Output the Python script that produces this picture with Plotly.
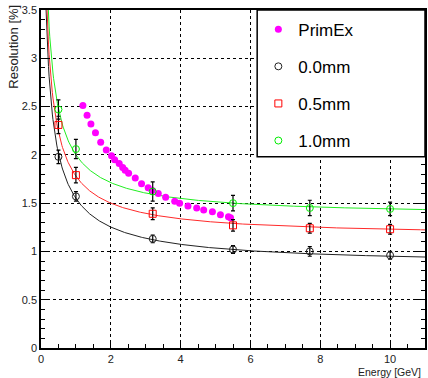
import numpy as np
import plotly.graph_objects as go

# ---------------- data ----------------
primex_E = [1.20, 1.32, 1.43, 1.56, 1.71, 1.87, 2.02, 2.11, 2.24, 2.34, 2.41, 2.51, 2.70,
            2.88, 3.07, 3.19, 3.36, 3.57, 3.83, 3.97, 4.21, 4.46, 4.66, 4.91, 5.14, 5.37, 5.43]
primex_res = [2.51, 2.41, 2.32, 2.23, 2.13, 2.05, 1.99, 1.95, 1.91, 1.87, 1.84, 1.81, 1.76,
              1.70, 1.66, 1.63, 1.60, 1.56, 1.52, 1.50, 1.47, 1.45, 1.43, 1.41, 1.38, 1.36, 1.35]

sim_E = [0.5, 1.0, 3.2, 5.5, 7.7, 10.0]
res_00 = [1.98, 1.57, 1.13, 1.02, 1.00, 0.96]
err_00 = [0.07, 0.05, 0.04, 0.04, 0.05, 0.04]
res_05 = [2.31, 1.79, 1.39, 1.27, 1.24, 1.23]
err_05 = [0.09, 0.08, 0.06, 0.06, 0.05, 0.05]
res_10 = [2.47, 2.06, 1.62, 1.50, 1.45, 1.44]
err_10 = [0.10, 0.10, 0.10, 0.08, 0.08, 0.07]

# fit parameters sigma/E = sqrt(a^2/E + b^2)  [%]
fit_a = [1.29, 1.356, 1.463]   # 0.0mm, 0.5mm, 1.0mm
fit_b = [0.858, 1.153, 1.364]

legend_names = ["PrimEx", "0.0mm", "0.5mm", "1.0mm"]

# ---------------- figure ----------------
FONT = "Liberation Sans, Arial, sans-serif"
fig = go.Figure()

E_curve = np.linspace(0.05, 11.0, 600)
curve_colors = ["#222222", "#ff2a2a", "#22ee22"]
for a, b, c in zip(fit_a, fit_b, curve_colors):
    fig.add_trace(go.Scatter(x=E_curve, y=np.sqrt(a**2 / E_curve + b**2), mode="lines",
                             line=dict(color=c, width=1), showlegend=False, hoverinfo="skip"))

err_style = dict(type="data", color="black", thickness=1.2, width=2)

fig.add_trace(go.Scatter(x=primex_E, y=primex_res, mode="markers", name=legend_names[0],
                         legendgroup="g1",
                         marker=dict(symbol="circle", size=7, color="#ff00ff")))
fig.add_trace(go.Scatter(x=sim_E, y=res_00, mode="markers", name=legend_names[1],
                         legendgroup="g2",
                         error_y=dict(array=err_00, **err_style),
                         marker=dict(symbol="circle-open", size=7, color="#222222",
                                     line=dict(width=1))))
fig.add_trace(go.Scatter(x=sim_E, y=res_05, mode="markers", name=legend_names[2],
                         legendgroup="g3",
                         error_y=dict(array=err_05, **err_style),
                         marker=dict(symbol="square-open", size=7, color="#ff0000",
                                     line=dict(width=1))))
fig.add_trace(go.Scatter(x=sim_E, y=res_10, mode="markers", name=legend_names[3],
                         legendgroup="g4",
                         error_y=dict(array=err_10, **err_style),
                         marker=dict(symbol="circle-open", size=7, color="#00ee00",
                                     line=dict(width=1))))

axis_common = dict(
    showline=True, linecolor="black", linewidth=1.5,
    ticks="inside", tickcolor="black", tickwidth=1,
    showgrid=True, gridcolor="black", gridwidth=1, griddash="dot",
    zeroline=False,
    tickfont=dict(family=FONT, size=11, color="#222222"),
)

fig.update_layout(
    width=428, height=378,
    margin=dict(l=41, r=1, t=10, b=30),
    paper_bgcolor="white", plot_bgcolor="white",
    xaxis=dict(range=[0, 11], tick0=0, dtick=2, ticklen=8, mirror=True,
               minor=dict(dtick=0.5, ticklen=4, ticks="inside", tickcolor="black", showgrid=False),
               **axis_common),
    yaxis=dict(range=[0, 3.5], tick0=0, dtick=0.5, ticklen=9, mirror="ticks",
               minor=dict(dtick=0.1, ticklen=4.5, ticks="inside", tickcolor="black", showgrid=False),
               **axis_common),
    showlegend=True,
    legend=dict(x=0.566, y=0.995, xanchor="left", yanchor="top",
                bgcolor="rgba(0,0,0,0)", borderwidth=0,
                traceorder="grouped", tracegroupgap=12,
                font=dict(family=FONT, size=17, color="black")),
    shapes=[dict(type="rect", xref="paper", yref="paper",
                 x0=(258.3 - 41) / 386, x1=1.0, y0=(348 - 156.7) / 338, y1=1.0,
                 fillcolor="white", line=dict(color="black", width=1.5), layer="above")],
    annotations=[
        dict(text="Resolution [%]", xref="paper", yref="paper",
             x=(12.5 - 41) / 386, y=(348 - 3) / 338, xanchor="center", yanchor="top",
             textangle=-90, showarrow=False,
             font=dict(family=FONT, size=13, color="#222222")),
        dict(text="Energy [GeV]", xref="paper", yref="paper",
             x=(425 - 41) / 386, y=(348 - 371.5) / 338, xanchor="right", yanchor="middle",
             showarrow=False, font=dict(family=FONT, size=10.5, color="#222222")),
    ],
)

fig.write_html("out.html")
